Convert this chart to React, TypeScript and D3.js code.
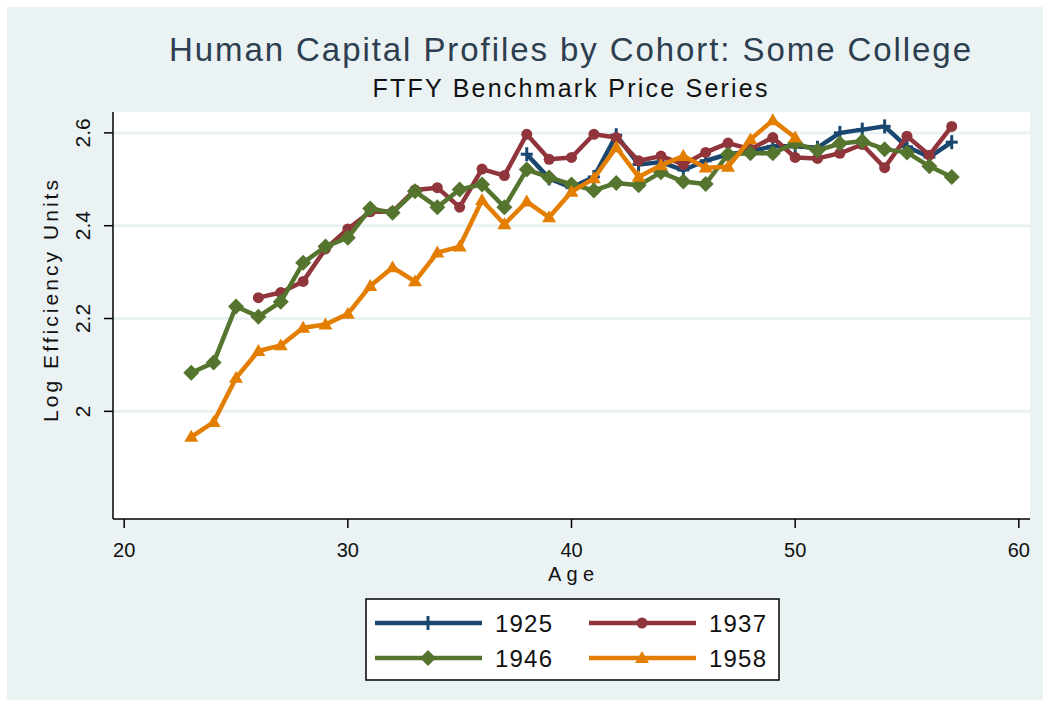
import React from "react";
import * as d3 from "d3";

const ages1925 = [38, 39, 40, 41, 42, 43, 44, 45, 46, 47, 48, 49, 50, 51, 52, 53, 54, 55, 56, 57];
const v1925 = [2.554, 2.502, 2.482, 2.505, 2.595, 2.532, 2.537, 2.52, 2.54, 2.554, 2.56, 2.571, 2.571, 2.568, 2.6, 2.607, 2.614, 2.57, 2.548, 2.58];

const ages1937 = [26, 27, 28, 29, 30, 31, 32, 33, 34, 35, 36, 37, 38, 39, 40, 41, 42, 43, 44, 45, 46, 47, 48, 49, 50, 51, 52, 53, 54, 55, 56, 57];
const v1937 = [2.245, 2.256, 2.28, 2.35, 2.393, 2.43, 2.43, 2.477, 2.482, 2.44, 2.522, 2.508, 2.597, 2.543, 2.547, 2.597, 2.59, 2.54, 2.55, 2.532, 2.558, 2.578, 2.565, 2.59, 2.547, 2.545, 2.556, 2.575, 2.525, 2.593, 2.552, 2.614];

const ages1946 = [23, 24, 25, 26, 27, 28, 29, 30, 31, 32, 33, 34, 35, 36, 37, 38, 39, 40, 41, 42, 43, 44, 45, 46, 47, 48, 49, 50, 51, 52, 53, 54, 55, 56, 57];
const v1946 = [2.083, 2.105, 2.226, 2.204, 2.236, 2.32, 2.355, 2.374, 2.437, 2.428, 2.474, 2.44, 2.478, 2.489, 2.44, 2.521, 2.504, 2.489, 2.476, 2.492, 2.487, 2.515, 2.495, 2.49, 2.554, 2.556, 2.556, 2.578, 2.562, 2.577, 2.582, 2.565, 2.558, 2.528, 2.505];

const ages1958 = [23, 24, 25, 26, 27, 28, 29, 30, 31, 32, 33, 34, 35, 36, 37, 38, 39, 40, 41, 42, 43, 44, 45, 46, 47, 48, 49, 50];
const v1958 = [1.945, 1.977, 2.072, 2.13, 2.142, 2.18, 2.187, 2.21, 2.27, 2.31, 2.28, 2.342, 2.355, 2.455, 2.403, 2.452, 2.418, 2.473, 2.502, 2.569, 2.505, 2.53, 2.55, 2.525, 2.527, 2.586, 2.627, 2.59];

const cohorts = ["1925", "1937", "1946", "1958"];
const xTicks = [20, 30, 40, 50, 60];
const yTicks = [2, 2.2, 2.4, 2.6];
const yTickLabels = ["2", "2.2", "2.4", "2.6"];

const COLORS: Record<string, string> = {
  "1925": "#1a476f",
  "1937": "#90353b",
  "1946": "#55752f",
  "1958": "#e37e00",
};

const FONT = "'Liberation Sans', Arial, sans-serif";

function Marker({ kind, x, y, color }: { kind: string; x: number; y: number; color: string }) {
  if (kind === "1925") {
    return (
      <g stroke={color} strokeWidth={3}>
        <line x1={x - 6} x2={x + 6} y1={y} y2={y} />
        <line x1={x} x2={x} y1={y - 7} y2={y + 7} />
      </g>
    );
  }
  if (kind === "1937") {
    return <circle cx={x} cy={y} r={5.5} fill={color} />;
  }
  if (kind === "1946") {
    const s = 8;
    return <path d={`M${x},${y - s}L${x + s},${y}L${x},${y + s}L${x - s},${y}Z`} fill={color} />;
  }
  const s = 7;
  return <path d={`M${x},${y - s}L${x + s},${y + s * 0.7}L${x - s},${y + s * 0.7}Z`} fill={color} />;
}

export default function App() {
  const left = 113, right = 1030, top = 112, bottom = 519;
  const x = d3.scaleLinear().domain([19.5, 60.5]).range([left, right]);
  const y = d3.scaleLinear().domain([1.768, 2.645]).range([bottom, top]);

  const series = cohorts.map((name, i) => ({
    name,
    ages: [ages1925, ages1937, ages1946, ages1958][i],
    vals: [v1925, v1937, v1946, v1958][i],
  }));

  const line = d3
    .line<[number, number]>()
    .x((d) => x(d[0]))
    .y((d) => y(d[1]));

  const legendPos = [
    { name: "1925", lx: 375, ly: 623 },
    { name: "1937", lx: 589, ly: 623 },
    { name: "1946", lx: 375, ly: 658 },
    { name: "1958", lx: 589, ly: 658 },
  ];

  return (
    <svg
      width={1050}
      height={707}
      style={{ position: "absolute", left: 0, top: 0, fontFamily: FONT }}
    >
      <rect x={0} y={0} width={1050} height={707} fill="#ffffff" />
      <rect x={7} y={7} width={1036} height={693} fill="#eaf2f3" />
      <rect x={left} y={top} width={right - left} height={bottom - top} fill="#ffffff" />

      {yTicks.map((t) => (
        <line key={"g" + t} x1={left} x2={right} y1={y(t)} y2={y(t)} stroke="#eaf2f3" strokeWidth={3} />
      ))}

      {series.map((s) => {
        const pts: [number, number][] = s.ages.map((a, i) => [a, s.vals[i]]);
        const c = COLORS[s.name];
        return (
          <g key={s.name}>
            <path d={line(pts) || ""} fill="none" stroke={c} strokeWidth={4.5} strokeLinejoin="round" />
            {pts.map((p, i) => (
              <Marker key={i} kind={s.name} x={x(p[0])} y={y(p[1])} color={c} />
            ))}
          </g>
        );
      })}

      {/* axes */}
      <line x1={left} x2={left} y1={top} y2={bottom} stroke="#000" strokeWidth={1.5} />
      <line x1={left} x2={right} y1={bottom} y2={bottom} stroke="#000" strokeWidth={1.5} />
      {yTicks.map((t, i) => (
        <g key={"yt" + t}>
          <line x1={left - 9} x2={left} y1={y(t)} y2={y(t)} stroke="#000" strokeWidth={1.5} />
          <text
            transform={`translate(90,${y(t)}) rotate(-90)`}
            textAnchor="middle"
            fontSize={21}
            fill="#111"
          >
            {yTickLabels[i]}
          </text>
        </g>
      ))}
      {xTicks.map((t) => (
        <g key={"xt" + t}>
          <line x1={x(t)} x2={x(t)} y1={bottom} y2={bottom + 9} stroke="#000" strokeWidth={1.5} />
          <text x={x(t)} y={557} textAnchor="middle" fontSize={20} fill="#111">
            {t}
          </text>
        </g>
      ))}

      <text x={571} y={581} textAnchor="middle" fontSize={20} fill="#111" textLength={46} lengthAdjust="spacing">
        Age
      </text>
      <text
        transform="translate(58,301) rotate(-90)"
        textAnchor="middle"
        fontSize={21}
        fill="#111"
        textLength={242}
        lengthAdjust="spacing"
      >
        Log Efficiency Units
      </text>

      <text x={570} y={61} textAnchor="middle" fontSize={33} fill="#2d3e50" textLength={802} lengthAdjust="spacing">
        Human Capital Profiles by Cohort: Some College
      </text>
      <text x={570} y={97} textAnchor="middle" fontSize={25} fill="#111" textLength={395} lengthAdjust="spacing">
        FTFY Benchmark Price Series
      </text>

      {/* legend */}
      <rect x={366} y={599} width={413} height={81} fill="#ffffff" stroke="#000" strokeWidth={1.5} />
      {legendPos.map((l) => {
        const c = COLORS[l.name];
        return (
          <g key={"lg" + l.name}>
            <line x1={l.lx} x2={l.lx + 107} y1={l.ly} y2={l.ly} stroke={c} strokeWidth={4.5} />
            <Marker kind={l.name} x={l.lx + 53} y={l.ly} color={c} />
            <text x={l.lx + 120} y={l.ly + 9} fontSize={24} fill="#111" textLength={57} lengthAdjust="spacing">
              {l.name}
            </text>
          </g>
        );
      })}
    </svg>
  );
}
